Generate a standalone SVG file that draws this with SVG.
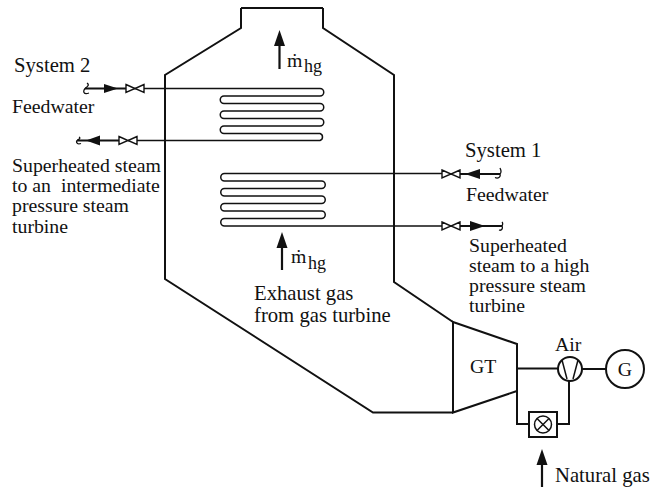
<svg xmlns="http://www.w3.org/2000/svg" width="666" height="487" viewBox="0 0 666 487">
<style>
text{font-family:"Liberation Serif","Times New Roman",serif;font-size:19.8px;fill:#111}
text.w{font-size:20.7px}
text.sub{font-size:18px}
.l{fill:none;stroke:#111;stroke-width:2}
.c{fill:none;stroke:#111;stroke-width:1.3}
.t{fill:none;stroke:#111;stroke-width:1.5}
.s{fill:none;stroke:#111;stroke-width:2.2}
.a{fill:#111;stroke:none}
.v{fill:#fff;stroke:#111;stroke-width:1.4}
</style>
<defs>
<g id="valve"><path class="v" d="M-9-4L0 0L-9 4ZM9-4L0 0L9 4Z"/></g>
</defs>
<rect width="666" height="487" fill="#fff"/>
<g id="boiler"><path class="l" d="M241 8H323M241 8V28L165 75V279L373 412.500H453M323 8V28L394 75V282L453 322"/></g>
<g id="gas-turbine"><path class="l" d="M453 322L517 344V391L453 412.500Z"/><text x="470" y="373">GT</text></g>
<g id="compressor"><circle class="l" cx="570" cy="369" r="12"/><path class="t" d="M562 360L567 379M578 360L573 379"/><text x="555" y="351">Air</text></g>
<g id="generator"><circle class="l" cx="625" cy="369" r="19"/><text x="625" y="376" text-anchor="middle">G</text></g>
<g id="combustor"><rect class="l" x="529" y="412" width="28" height="25"/><circle class="t" cx="543" cy="424.500" r="8.500"/><path class="t" d="M537 418.500L549 430.500M549 418.500L537 430.500"/></g>
<g id="connectors">
<path class="l" d="M517 368.500H558M582 369H606M517 391V424H529M557 424H569V381"/>
<path class="t" d="M128 88.500H320A3.700 3.700 0 0 1 320 96H224A3.700 3.700 0 0 0 224 103.500H320A3.700 3.700 0 0 1 320 111H224A3.700 3.700 0 0 0 224 118.500H320A3.700 3.700 0 0 1 320 126H224A3.700 3.700 0 0 0 224 133.500H320A3.700 3.700 0 0 1 320 140.500H128"/>
<path class="t" d="M443 173.500H224.500A3.700 3.700 0 0 0 224.500 181H321.500A3.700 3.700 0 0 1 321.500 188.500H224.500A3.700 3.700 0 0 0 224.500 196H321.500A3.700 3.700 0 0 1 321.500 203.500H224.500A3.700 3.700 0 0 0 224.500 211H321.500A3.700 3.700 0 0 1 321.500 218.500H224.500A3.700 3.700 0 0 0 224.500 226H443"/>
<path class="l" d="M85 88.500H128M77 140.500H122M443 174H500M443 226H502"/>
<path class="c" d="M87 83C90 85 87 87 85 88.500C83 91 83 95 89 93M79 137C81 138 79 139.500 77 140.500C76 142 77 145 81 143.500M500 168C501 170 502 172 500 174C501 177 498 179 495 177.500M502 222C503 223 503 224 502 226C503 228 502 231 499 230"/>
<use href="#valve" x="135" y="88.500"/><use href="#valve" x="128" y="140.500"/><use href="#valve" x="451" y="174"/><use href="#valve" x="451" y="226"/>
<path class="a" d="M104 84L118 88.500L104 93ZM100 135.500L86 140.500L100 145.500ZM480 169L465 174L480 179ZM470 221L485 226L470 231Z"/>
<path class="s" d="M279.500 69V40M282 270V243M542 487V460"/>
<path class="a" d="M279.500 30L285 46H274ZM282 232L287.500 248H276.500ZM542 449L547.500 465H536.500Z"/>
</g>
<g id="labels">
<text class="w" x="14" y="72">System 2</text><text x="12" y="113">Feedwater</text>
<text x="12" y="172">Superheated steam</text><text x="12" y="192" xml:space="preserve">to an  intermediate</text><text x="12" y="212">pressure steam</text><text x="12" y="233">turbine</text>
<text class="w" x="465" y="157">System 1</text><text x="466" y="201">Feedwater</text>
<text x="469" y="252">Superheated</text><text x="469" y="272">steam to a high</text><text x="469" y="292">pressure steam</text><text x="469" y="312">turbine</text>
<text class="w" x="254" y="300">Exhaust gas</text><text class="w" x="254" y="322">from gas turbine</text>
<text class="w" x="555" y="482">Natural gas</text>
<text x="287" y="67">ṁ</text><text class="sub" x="304" y="72">hg</text>
<text x="291" y="263">ṁ</text><text class="sub" x="308" y="269">hg</text>
</g>
</svg>
